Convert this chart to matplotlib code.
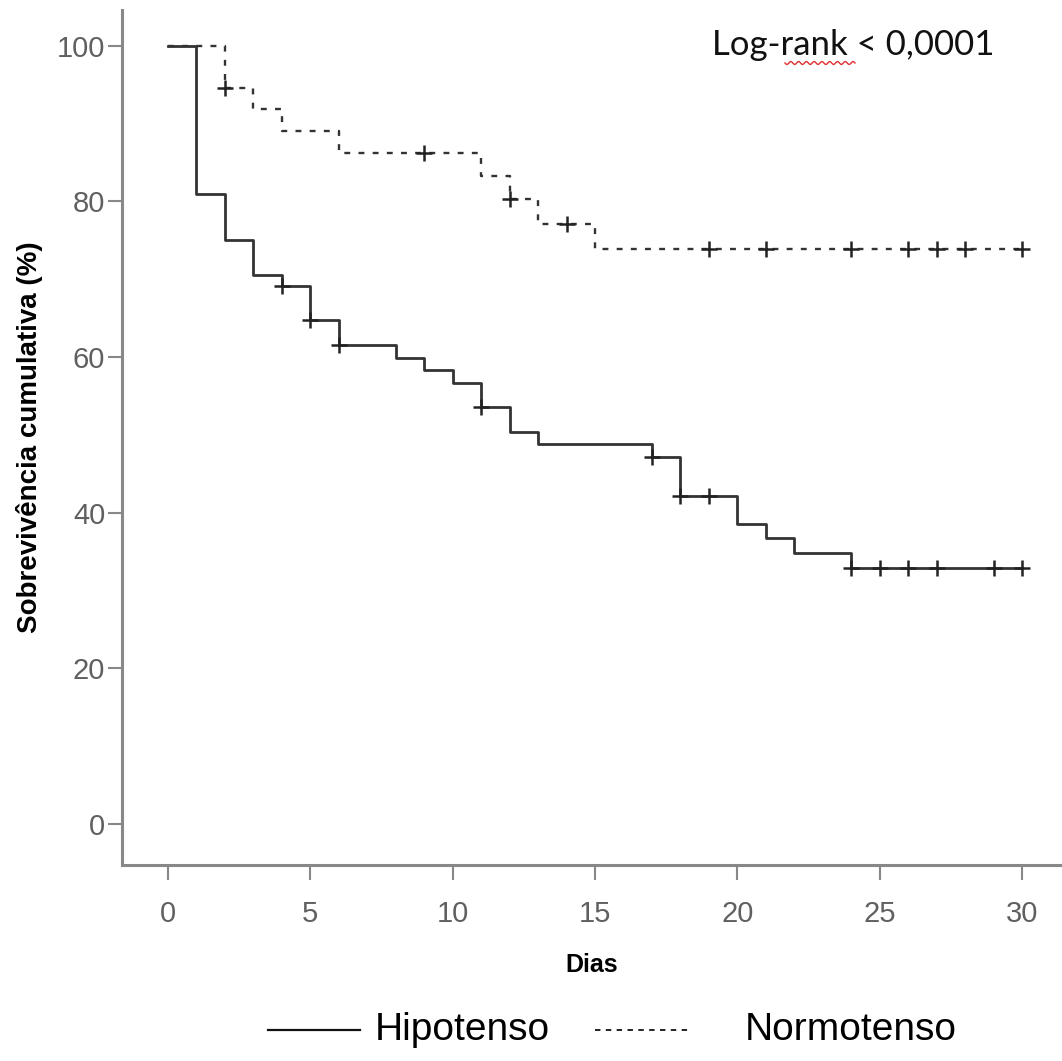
import matplotlib
matplotlib.use("Agg")
import matplotlib.pyplot as plt
import numpy as np
from matplotlib.lines import Line2D

plt.rcParams['font.family'] = ['Liberation Sans Narrow', 'Liberation Sans', 'DejaVu Sans']

# Kaplan-Meier: tempos de evento e sobrevivência (%) depois de cada evento
hipo_t = [0, 1, 2, 3, 4, 5, 6, 8, 9, 10, 11, 12, 13, 17, 18, 20, 21, 22, 24]
hipo_s = [100, 81.0, 75.0, 70.6, 69.1, 64.7, 61.5, 59.9, 58.3, 56.7, 53.6,
          50.4, 48.8, 47.2, 42.1, 38.5, 36.7, 34.8, 32.9]
hipo_cens = [4, 5, 6, 11, 17, 18, 19, 24, 25, 26, 27, 29, 30]

normo_t = [0, 2, 3, 4, 6, 11, 12, 13, 15]
normo_s = [100, 94.6, 91.9, 89.1, 86.2, 83.3, 80.3, 77.1, 73.9]
normo_cens = [2, 9, 12, 14, 19, 21, 24, 26, 27, 28, 30]

t_max = 30
x_ticks = [0, 5, 10, 15, 20, 25, 30]
y_ticks = [0, 20, 40, 60, 80, 100]


def surv_at(times, surv, pts):
    idx = np.searchsorted(times, pts, side='right') - 1
    return np.array(surv)[idx]


fig = plt.figure(figsize=(10.62, 10.61), dpi=100)
ax = fig.add_axes([122 / 1062, 1 - 865 / 1061, 940 / 1062, 855 / 1061])

line_col = '#333333'
ax.step(hipo_t + [t_max], hipo_s + [hipo_s[-1]], where='post',
        color=line_col, lw=2.0)
ax.step(normo_t + [t_max], normo_s + [normo_s[-1]], where='post',
        color=line_col, lw=1.7, ls=(0, (2.5, 3.5)))
ax.plot(hipo_cens, surv_at(hipo_t, hipo_s, hipo_cens), ls='none',
        marker='+', ms=11, mew=1.8, color='#222222')
ax.plot(normo_cens, surv_at(normo_t, normo_s, normo_cens), ls='none',
        marker='+', ms=11, mew=1.8, color='#222222')

ax.set_xlim(-1.616, 31.4)
ax.set_ylim(-5.27, 104.6)
ax.set_xticks(x_ticks)
ax.set_yticks(y_ticks)

for s in ['top', 'right']:
    ax.spines[s].set_visible(False)
for s in ['left', 'bottom']:
    ax.spines[s].set_color('#888888')
    ax.spines[s].set_linewidth(2.2)

ax.tick_params(axis='y', length=10, width=1.5, color='#888888', pad=2,
               labelsize=21, labelcolor='#606060')
ax.tick_params(axis='x', length=11, width=1.5, color='#888888', pad=14,
               labelsize=21, labelcolor='#606060')

ax.set_ylabel('Sobrevivência cumulativa (%)', fontsize=20, fontweight='bold',
              family=['Liberation Sans', 'DejaVu Sans'], va='center')
ax.yaxis.set_label_coords(-0.098, 0.5)

fig.text(592 / 1062, 1 - 965 / 1061, 'Dias', fontsize=18, fontweight='bold',
         ha='center', va='center')

# texto do teste
fig.text(712 / 1062, 1 - 45 / 1061, 'Log-rank < 0,0001', fontsize=25,
         family=['Lato', 'DejaVu Sans'], ha='left', va='center', color='#111111')
wx = np.linspace(785, 855, 60)
wy = 63 + 1.5 * np.sin((wx - 785) / 70 * 2 * np.pi * 9)
fig.add_artist(Line2D(wx / 1062, 1 - wy / 1061, color='#e03030', lw=1.0))

# legenda
fig.add_artist(Line2D([268 / 1062, 360 / 1062], [1 - 1030 / 1061] * 2,
                      color='#111111', lw=1.6))
fig.text(375 / 1062, 1 - 1030 / 1061, 'Hipotenso', fontsize=28,
         ha='left', va='center')
fig.add_artist(Line2D([595 / 1062, 690 / 1062], [1 - 1030 / 1061] * 2,
                      color='#111111', lw=1.3, ls=(0, (3, 3))))
fig.text(745 / 1062, 1 - 1030 / 1061, 'Normotenso', fontsize=28,
         ha='left', va='center')

fig.savefig('out.png', dpi=100)
